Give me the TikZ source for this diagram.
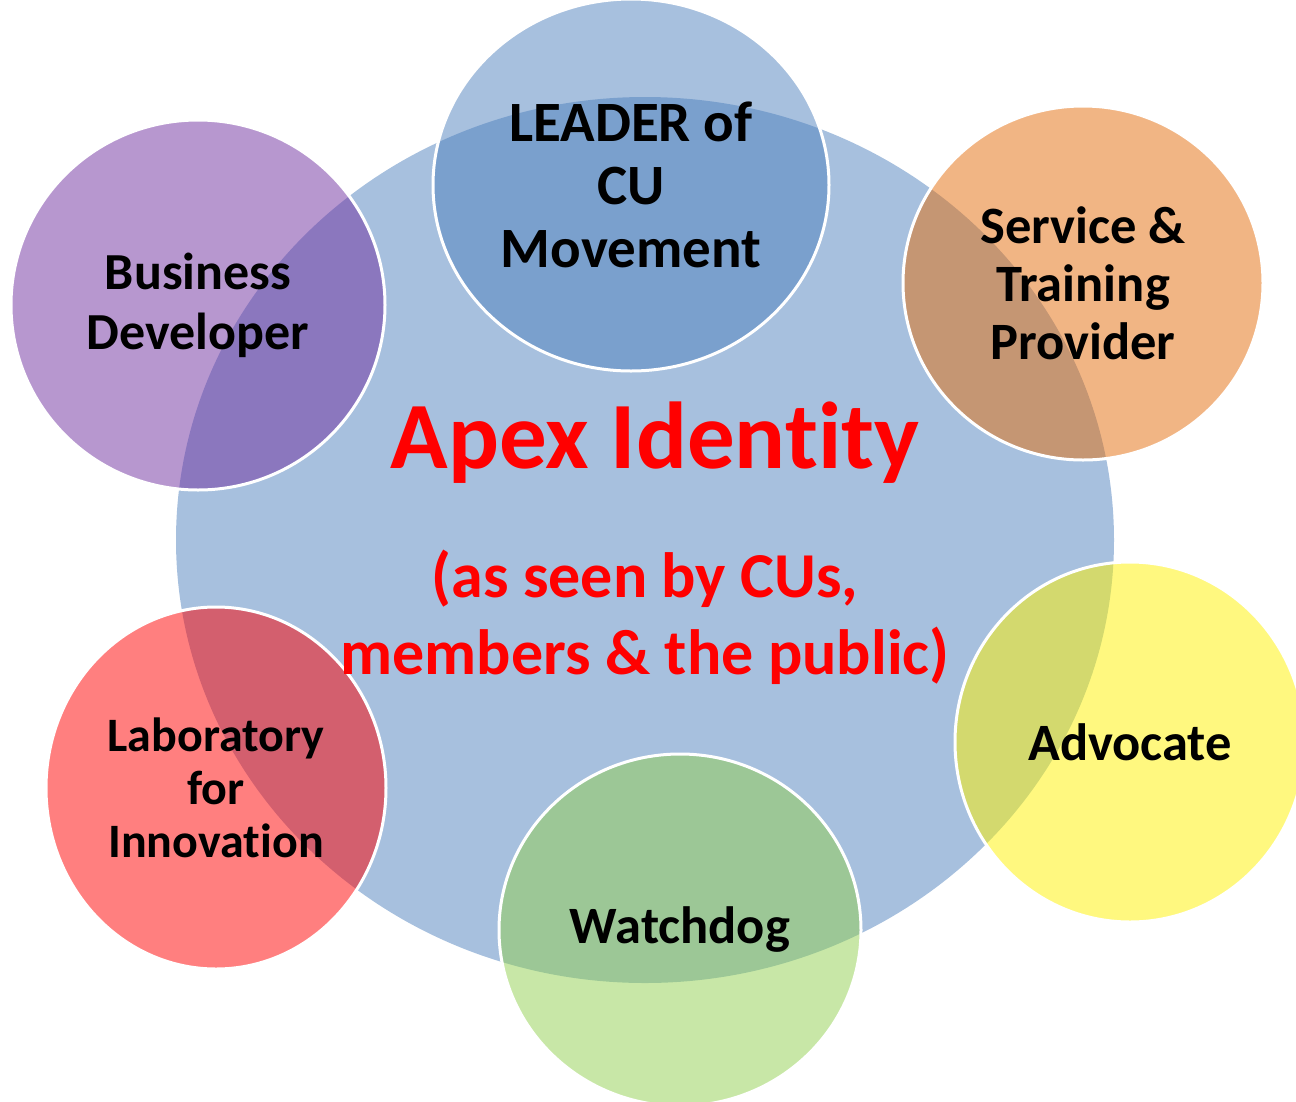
\documentclass[tikz,border=0pt]{standalone}
\usepackage{fontspec}
\setmainfont{Carlito}[Ligatures=NoCommon]
\usetikzlibrary{shapes.geometric}

\definecolor{apexblue}{HTML}{4F81BD}
\definecolor{svcorange}{HTML}{E46C0A}
\definecolor{bizpurple}{HTML}{7030A0}
\definecolor{watchgreen}{HTML}{92D050}

\begin{document}
\begin{tikzpicture}[x=1pt,y=-1pt,
      role/.style={ellipse,draw=white,line width=3pt,fill opacity=0.5,text opacity=1,
        inner sep=0pt,align=center,font=\bfseries\fontsize{52.5}{58}\selectfont},
      apextext/.style={text=red,align=center,font=\bfseries\fontsize{64}{77}\selectfont}]
      \useasboundingbox (0,0) rectangle (1296,1101);
      \clip (0,0) rectangle (1296,1101);
      % central identity
      \node (apex) [ellipse,fill=apexblue,fill opacity=0.5,minimum width=938pt,minimum height=886pt] at (645,540) {};
      % surrounding roles
      \node (leader) [role,fill=apexblue,minimum width=396pt,minimum height=372pt,
        font=\bfseries\fontsize{57}{63}\selectfont] at (631,185) {LEADER of\\CU\\Movement};
      \node (service) [role,fill=svcorange,minimum width=360pt,minimum height=354pt] at (1083,283) {Service \&\\Training\\Provider};
      \node (business) [role,fill=bizpurple,minimum width=374pt,minimum height=370pt,
        font=\bfseries\fontsize{52}{60}\selectfont] at (198,305) {Business\\Developer};
      \node (advocate) [role,fill=yellow,minimum width=350pt,minimum height=360pt] at (1130,742) {Advocate};
      \node (watchdog) [role,fill=watchgreen,minimum width=362pt,minimum height=352pt] at (680,930) {Watchdog};
      \node (lab) [role,fill=red,minimum width=340pt,minimum height=362pt,
        font=\bfseries\fontsize{48}{53}\selectfont] at (216,788) {Laboratory\\for\\Innovation};
      % identity texts
      \node (ident) [apextext,font=\bfseries\fontsize{95}{100}\selectfont] at (655,443) {Apex Identity};
      \node (seen) [apextext] at (645,617) {(as seen by CUs,\\members \& the public)};
    \end{tikzpicture}
\end{document}
